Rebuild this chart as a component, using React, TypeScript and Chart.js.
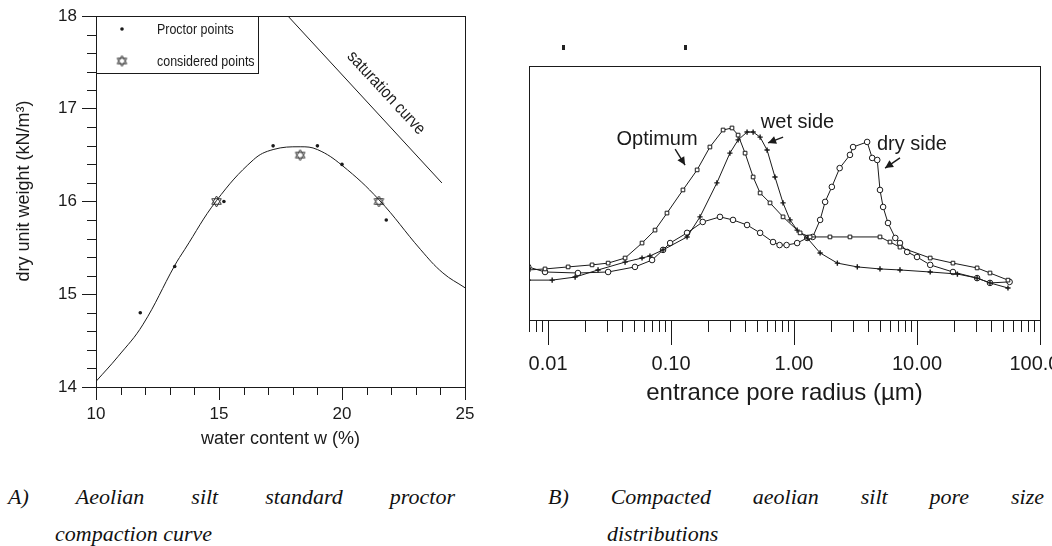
import React, { useEffect, useRef } from "react";
import { Chart, registerables } from "chart.js";
Chart.register(...registerables);

Chart.defaults.font.family = '"Liberation Sans", Arial, sans-serif';
Chart.defaults.color = "#1a1a1a";

// ---------- Panel A : standard proctor compaction ----------
const compactionW = [10, 10.9, 11.9, 13.2, 13.6, 14.9, 16.4, 17.2, 18.3, 19.0, 20.0, 21.5, 23.2, 24.1, 25];
const compactionGamma = [14.06, 14.33, 14.67, 15.31, 15.48, 16.01, 16.45, 16.56, 16.59, 16.56, 16.39, 16.02, 15.48, 15.23, 15.07];
const proctorW = [11.8, 13.2, 15.2, 17.2, 19.0, 20.0, 21.8];
const proctorGamma = [14.8, 15.3, 16.0, 16.6, 16.6, 16.4, 15.8];
const consideredW = [14.9, 18.3, 21.5];
const consideredGamma = [16.0, 16.5, 16.0];
const saturationW = [17.8, 24.06];
const saturationGamma = [18.0, 16.2];
const aMinorX = [11, 12, 13, 14, 16, 17, 18, 19, 21, 22, 23, 24];
const aMinorY = [14.2, 14.4, 14.6, 14.8, 15.2, 15.4, 15.6, 15.8, 16.2, 16.4, 16.6, 16.8, 17.2, 17.4, 17.6, 17.8];

// ---------- Panel B : pore size distributions ----------
const optimumR = [0.0069, 0.00945, 0.01456, 0.0228, 0.0308, 0.0423, 0.0581, 0.0741, 0.0927, 0.125, 0.163, 0.207, 0.265, 0.313, 0.351, 0.4, 0.465, 0.53, 0.638, 0.814, 1.12, 1.35, 1.96, 2.85, 5.0, 6.03, 7.27, 12.8, 19.6, 30.8, 39.2, 54.9];
const optimumF = [19.7, 20.1, 20.9, 21.7, 22.4, 24.4, 30.3, 35.4, 42.1, 51.2, 59.1, 68.1, 74.8, 75.6, 72.8, 65.7, 56.3, 50.0, 46.1, 40.6, 34.3, 32.7, 32.7, 32.7, 32.7, 30.7, 28.7, 24.4, 22.4, 20.5, 18.5, 15.7];
const wetR = [0.0069, 0.0108, 0.0166, 0.0255, 0.0423, 0.0581, 0.0674, 0.0861, 0.135, 0.172, 0.236, 0.301, 0.351, 0.415, 0.465, 0.53, 0.604, 0.7, 0.814, 0.928, 1.06, 1.28, 1.63, 2.25, 3.27, 5.0, 7.27, 12.8, 21.3, 30.8, 39.2, 54.9];
const wetF = [15.7, 15.7, 16.9, 19.7, 22.8, 24.4, 25.2, 27.6, 32.7, 40.6, 54.0, 65.7, 70.9, 74.0, 74.0, 72.0, 66.9, 56.3, 46.1, 39.4, 35.4, 32.3, 26.4, 22.4, 20.9, 20.1, 19.7, 18.9, 18.1, 16.5, 14.6, 12.6];
const dryR = [0.0069, 0.00945, 0.0175, 0.0308, 0.0509, 0.0701, 0.0861, 0.0983, 0.135, 0.181, 0.25, 0.319, 0.415, 0.53, 0.675, 0.763, 0.87, 1.06, 1.28, 1.42, 1.63, 1.79, 2.03, 2.35, 2.85, 3.02, 3.93, 4.32, 4.75, 5.0, 5.3, 5.81, 6.66, 7.27, 8.32, 10.0, 12.8, 19.6, 30.8, 39.2, 56.6];
const dryF = [20.9, 18.9, 18.5, 18.9, 20.9, 23.6, 27.6, 30.3, 34.3, 38.6, 40.6, 39.4, 37.4, 34.3, 30.7, 29.5, 29.5, 30.3, 32.3, 32.7, 39.4, 46.5, 52.4, 59.8, 65.0, 68.1, 70.1, 63.8, 63.0, 51.2, 44.5, 38.2, 32.3, 30.3, 26.8, 24.8, 21.7, 18.9, 16.5, 14.6, 15.0];
const bMajorTicks = [0.01, 0.1, 1, 10, 100];
const bTickLabels = ["0.01", "0.10", "1.00", "10.00", "100.00"];
const bMinorMult = [2, 3, 4, 5, 6, 7, 8, 9];
const bNotes = [
  { text: "Optimum", r: 0.0769, v: 68.9, tailR: 0.108, tailV: 67.3, headR: 0.13, headV: 61.0 },
  { text: "wet side", r: 1.068, v: 75.6, tailR: 0.815, tailV: 72.0, headR: 0.615, headV: 69.7 },
  { text: "dry side", r: 9.1, v: 66.9, tailR: 7.27, tailV: 63.8, headR: 5.5, headV: 59.8 },
];

const INK = "#1a1a1a";

function pts(xs: number[], ys: number[]) {
  return xs.map((x, i) => ({ x, y: ys[i] }));
}

function makeStar(): HTMLCanvasElement {
  const c = document.createElement("canvas");
  c.width = 13;
  c.height = 13;
  const ctx = c.getContext("2d")!;
  ctx.strokeStyle = "#333";
  ctx.lineWidth = 1;
  const cx = 6.5, cy = 6.5, r = 5.5;
  for (const rot of [-Math.PI / 2, Math.PI / 2]) {
    ctx.beginPath();
    for (let i = 0; i < 3; i++) {
      const a = rot + (i * 2 * Math.PI) / 3;
      const x = cx + r * Math.cos(a), y = cy + r * Math.sin(a);
      if (i) ctx.lineTo(x, y);
      else ctx.moveTo(x, y);
    }
    ctx.closePath();
    ctx.stroke();
  }
  return c;
}

function drawArrow(ctx: CanvasRenderingContext2D, x1: number, y1: number, x2: number, y2: number) {
  ctx.beginPath();
  ctx.moveTo(x1, y1);
  ctx.lineTo(x2, y2);
  ctx.stroke();
  const a = Math.atan2(y2 - y1, x2 - x1);
  const L = 8, W = 4;
  ctx.beginPath();
  ctx.moveTo(x2, y2);
  ctx.lineTo(x2 - L * Math.cos(a) + W * Math.sin(a), y2 - L * Math.sin(a) - W * Math.cos(a));
  ctx.lineTo(x2 - L * Math.cos(a) - W * Math.sin(a), y2 - L * Math.sin(a) + W * Math.cos(a));
  ctx.closePath();
  ctx.fill();
}

function condensedText(ctx: CanvasRenderingContext2D, text: string, x: number, y: number, sx: number) {
  ctx.save();
  ctx.translate(x, y);
  ctx.scale(sx, 1);
  ctx.fillText(text, 0, 0);
  ctx.restore();
}

export default function App() {
  const leftRef = useRef<HTMLCanvasElement>(null);
  const rightRef = useRef<HTMLCanvasElement>(null);

  useEffect(() => {
    const star = makeStar();

    const leftPlugin = {
      id: "leftDecor",
      afterDraw(chart: any) {
        const { ctx, chartArea: ca, scales } = chart;
        const sx = scales.x, sy = scales.y;
        ctx.save();
        ctx.strokeStyle = INK;
        ctx.lineWidth = 1;
        ctx.strokeRect(ca.left + 0.5, ca.top + 0.5, ca.right - ca.left, ca.bottom - ca.top);
        ctx.beginPath();
        aMinorX.forEach((v) => {
          const p = Math.round(sx.getPixelForValue(v)) + 0.5;
          ctx.moveTo(p, ca.bottom);
          ctx.lineTo(p, ca.bottom + 8);
        });
        aMinorY.forEach((v) => {
          const p = Math.round(sy.getPixelForValue(v)) + 0.5;
          ctx.moveTo(ca.left, p);
          ctx.lineTo(ca.left - 9, p);
        });
        ctx.stroke();
        ctx.strokeRect(ca.left + 0.5, ca.top + 0.5, 162, 57);
        ctx.fillStyle = INK;
        ctx.beginPath();
        ctx.arc(ca.left + 26, ca.top + 13, 1.8, 0, Math.PI * 2);
        ctx.fill();
        ctx.drawImage(star, ca.left + 26 - 6.5, ca.top + 45 - 6.5);
        ctx.font = '15px "Liberation Sans", Arial, sans-serif';
        ctx.textBaseline = "alphabetic";
        ctx.textAlign = "left";
        condensedText(ctx, "Proctor points", ca.left + 61, ca.top + 18, 0.83);
        condensedText(ctx, "considered points", ca.left + 61, ca.top + 50, 0.83);
        const x1 = sx.getPixelForValue(saturationW[0]), y1 = sy.getPixelForValue(saturationGamma[0]);
        const x2 = sx.getPixelForValue(saturationW[1]), y2 = sy.getPixelForValue(saturationGamma[1]);
        const ang = Math.atan2(y2 - y1, x2 - x1);
        ctx.save();
        ctx.translate(sx.getPixelForValue(21.79), sy.getPixelForValue(17.17));
        ctx.rotate(ang);
        ctx.scale(0.88, 1);
        ctx.font = '17px "Liberation Sans", Arial, sans-serif';
        ctx.textAlign = "center";
        ctx.textBaseline = "middle";
        ctx.fillText("saturation curve", 0, 0);
        ctx.restore();
        ctx.save();
        ctx.translate(24, 191);
        ctx.rotate(-Math.PI / 2);
        ctx.font = '18px "Liberation Sans", Arial, sans-serif';
        ctx.textAlign = "center";
        ctx.textBaseline = "middle";
        ctx.fillText("dry unit weight (kN/m³)", 0, 0);
        ctx.restore();
        ctx.restore();
      },
    };

    const left = new Chart(leftRef.current!, {
      type: "scatter",
      data: {
        datasets: [
          {
            data: pts(compactionW, compactionGamma),
            showLine: true,
            borderColor: INK,
            borderWidth: 1,
            pointRadius: 0,
            tension: 0.4,
          },
          {
            data: pts(saturationW, saturationGamma),
            showLine: true,
            borderColor: INK,
            borderWidth: 1,
            pointRadius: 0,
          },
          {
            data: pts(proctorW, proctorGamma),
            pointStyle: "circle",
            pointRadius: 1.8,
            backgroundColor: INK,
            borderWidth: 0,
          },
          {
            data: pts(consideredW, consideredGamma),
            pointStyle: star as any,
            pointRadius: 6,
          },
        ],
      } as any,
      options: {
        responsive: false,
        animation: false,
        layout: { padding: { left: 0, right: 25, top: 16, bottom: 10 } },
        plugins: { legend: { display: false }, tooltip: { enabled: false } },
        scales: {
          x: {
            type: "linear",
            min: 10,
            max: 25,
            ticks: { stepSize: 5, font: { size: 17 }, color: INK, padding: 4 },
            grid: { display: true, drawOnChartArea: false, drawTicks: true, tickLength: 13, color: INK },
            border: { display: true, color: INK },
            title: { display: true, text: "water content w (%)", font: { size: 18 }, color: INK, padding: 0 },
            afterFit: (s: any) => {
              s.height = 63;
            },
          },
          y: {
            type: "linear",
            min: 14,
            max: 18,
            ticks: { stepSize: 1, font: { size: 17 }, color: INK, padding: 5 },
            grid: { display: true, drawOnChartArea: false, drawTicks: true, tickLength: 14, color: INK },
            border: { display: true, color: INK },
            afterFit: (s: any) => {
              s.width = 96;
            },
          },
        },
      } as any,
      plugins: [leftPlugin],
    });

    const bAllTicks: number[] = [];
    [0.001, 0.01, 0.1, 1, 10].forEach((d) => {
      bMinorMult.forEach((m) => bAllTicks.push(m * d));
      bAllTicks.push(d * 10);
    });

    const rightPlugin = {
      id: "rightDecor",
      afterDraw(chart: any) {
        const { ctx, chartArea: ca, scales } = chart;
        const sx = scales.x, sy = scales.y;
        ctx.save();
        ctx.strokeStyle = INK;
        ctx.fillStyle = INK;
        ctx.lineWidth = 1;
        ctx.strokeRect(ca.left + 0.5, ca.top + 0.5, ca.right - ca.left, ca.bottom - ca.top);
        ctx.beginPath();
        bAllTicks.forEach((v) => {
          if (v < sx.min || v > sx.max) return;
          const p = Math.round(sx.getPixelForValue(v)) + 0.5;
          const major = bMajorTicks.includes(v);
          ctx.moveTo(p, ca.bottom);
          ctx.lineTo(p, ca.bottom + (major ? 25 : 12));
        });
        ctx.stroke();
        ctx.font = '20px "Liberation Sans", Arial, sans-serif';
        ctx.textAlign = "center";
        ctx.textBaseline = "alphabetic";
        ctx.lineWidth = 1.4;
        bNotes.forEach((n) => {
          ctx.fillText(n.text, sx.getPixelForValue(n.r), sy.getPixelForValue(n.v));
          drawArrow(
            ctx,
            sx.getPixelForValue(n.tailR),
            sy.getPixelForValue(n.tailV),
            sx.getPixelForValue(n.headR),
            sy.getPixelForValue(n.headV)
          );
        });
        ctx.restore();
      },
    };

    const right = new Chart(rightRef.current!, {
      type: "scatter",
      data: {
        datasets: [
          {
            data: pts(optimumR, optimumF),
            showLine: true,
            borderColor: INK,
            borderWidth: 1,
            pointStyle: "rect",
            pointRadius: 2.6,
            pointBackgroundColor: "#fff",
            pointBorderColor: INK,
            pointBorderWidth: 1,
          },
          {
            data: pts(wetR, wetF),
            showLine: true,
            borderColor: INK,
            borderWidth: 1,
            pointStyle: "cross",
            pointRadius: 2.6,
            pointBorderColor: INK,
            pointBorderWidth: 1.4,
          },
          {
            data: pts(dryR, dryF),
            showLine: true,
            borderColor: INK,
            borderWidth: 1,
            pointStyle: "circle",
            pointRadius: 2.8,
            pointBackgroundColor: "#fff",
            pointBorderColor: INK,
            pointBorderWidth: 1,
          },
        ],
      } as any,
      options: {
        responsive: false,
        animation: false,
        layout: { padding: { left: 29, right: 12, top: 66, bottom: 12 } },
        plugins: { legend: { display: false }, tooltip: { enabled: false } },
        scales: {
          x: {
            type: "logarithmic",
            min: 0.007,
            max: 100,
            afterBuildTicks: (s: any) => {
              s.ticks = bAllTicks.filter((v) => v >= 0.007 && v <= 100).map((v) => ({ value: v }));
            },
            ticks: {
              autoSkip: false,
              maxRotation: 0,
              font: { size: 20 },
              color: INK,
              padding: 7,
              callback: (_v: any, i: number, ticks: any[]) => {
                const k = bMajorTicks.indexOf(ticks[i].value);
                return k >= 0 ? bTickLabels[k] : "";
              },
            },
            grid: { display: true, drawOnChartArea: false, drawTicks: true, tickLength: 25, tickColor: "rgba(0,0,0,0)" },
            border: { display: true, color: INK },
            title: { display: true, text: "entrance pore radius (µm)", font: { size: 24 }, color: INK, padding: 0 },
            afterFit: (s: any) => {
              s.height = 88;
              s.paddingLeft = 0;
              s.paddingRight = 0;
            },
          },
          y: { display: false, min: 0, max: 100 },
        },
      } as any,
      plugins: [rightPlugin],
    });

    return () => {
      left.destroy();
      right.destroy();
    };
  }, []);

  const cap: React.CSSProperties = {
    position: "absolute",
    fontFamily: '"Liberation Serif", "Times New Roman", serif',
    fontStyle: "italic",
    fontSize: 22,
    lineHeight: "26px",
    color: "#111",
    whiteSpace: "nowrap",
  };
  const justify: React.CSSProperties = { ...cap, display: "flex", justifyContent: "space-between" };

  return (
    <div style={{ position: "fixed", left: 0, top: 0, width: 1052, height: 546, overflow: "hidden", background: "#fff" }}>
      <canvas ref={leftRef} width={490} height={460} style={{ position: "absolute", left: 0, top: 0 }} />
      <canvas ref={rightRef} width={552} height={420} style={{ position: "absolute", left: 500, top: 0 }} />
      <div style={{ position: "absolute", left: 562, top: 45, width: 3, height: 5, background: "#222" }} />
      <div style={{ position: "absolute", left: 684, top: 45, width: 3, height: 5, background: "#222" }} />
      <div style={{ ...justify, left: 8, width: 447, top: 484 }}>
        {["A)", "Aeolian", "silt", "standard", "proctor"].map((w) => (
          <span key={w}>{w}</span>
        ))}
      </div>
      <div style={{ ...cap, left: 55, top: 521 }}>compaction curve</div>
      <div style={{ ...justify, left: 548, width: 496, top: 484 }}>
        {["B)", "Compacted", "aeolian", "silt", "pore", "size"].map((w) => (
          <span key={w}>{w}</span>
        ))}
      </div>
      <div style={{ ...cap, left: 607, top: 521 }}>distributions</div>
    </div>
  );
}
